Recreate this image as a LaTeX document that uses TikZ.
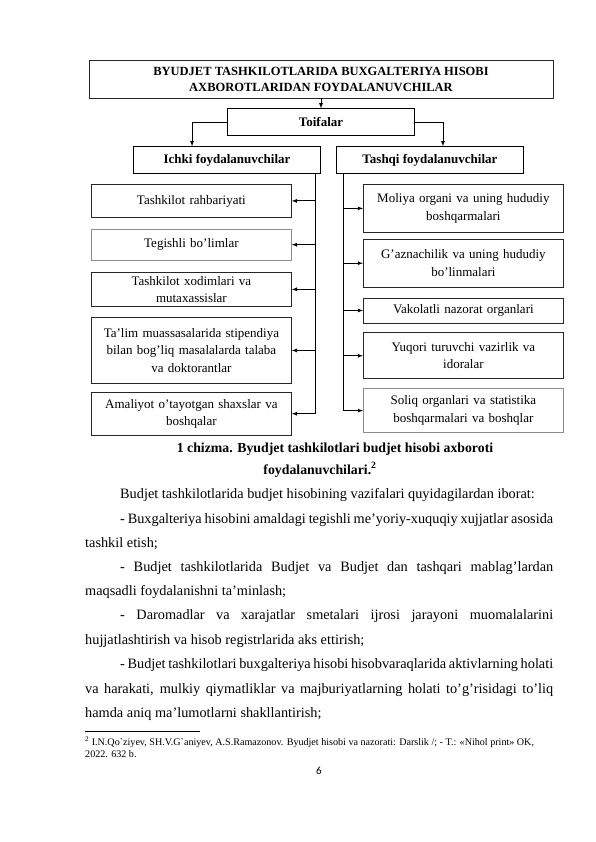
\documentclass[tikz,border=0pt]{standalone}
\usepackage{fontspec}
\setmainfont{Liberation Serif}
\newfontfamily\pagenumfont{Carlito}
\usetikzlibrary{positioning,calc}
\tikzstyle{titlebox} = [rectangle, draw=black!85, line width=0.8pt, minimum width=464pt, minimum height=38pt, align=center, font=\fontsize{12.5}{16}\selectfont\bfseries]
\tikzstyle{header} = [rectangle, draw=black, line width=0.9pt, minimum width=187pt, minimum height=27pt, text centered, font=\fontsize{13}{16}\selectfont\bfseries]
\tikzstyle{userbox} = [rectangle, draw=black!85, line width=0.8pt, text width=192pt, inner sep=4pt, align=center, font=\fontsize{13}{17.5}\selectfont]
\tikzstyle{link} = [line width=0.8pt]
\tikzstyle{arrowlink} = [line width=0.8pt, -latex]
\tikzstyle{bodyline} = [anchor=base west, inner sep=0pt, font=\fontsize{14.3}{16}\selectfont]
\tikzstyle{footline} = [anchor=base west, inner sep=0pt, font=\fontsize{10.1}{12}\selectfont]

\begin{document}
\begin{tikzpicture}[x=1pt, y=1pt]
\useasboundingbox (0,0) rectangle (595,-842);

% Sarlavha
\node[titlebox] (title) at (321,-79) {BYUDJET TASHKILOTLARIDA BUXGALTERIYA HISOBI\\AXBOROTLARIDAN FOYDALANUVCHILAR};

% Toifalar
\node[header, below=10pt of title] (toifa) {Toifalar};
\draw[arrowlink] (title) -- (toifa);

% Ichki va tashqi foydalanuvchilar
\node[header, below=10pt of toifa.south west] (ichki) {Ichki foydalanuvchilar};
\node[header, right=15pt of ichki] (tashqi) {Tashqi foydalanuvchilar};
\draw[arrowlink] (toifa.west) -| ([xshift=-35pt]ichki.north);
\draw[arrowlink] (toifa.east) -| ([xshift=13pt]tashqi.north);

% Ichki foydalanuvchilar ro'yxati
\node[userbox, minimum height=33pt, anchor=north west] (rahb) at (91,-184) {Tashkilot rahbariyati};
\node[userbox, minimum height=31pt, draw=black!45, below=11pt of rahb] (teg) {Tegishli bo’limlar};
\node[userbox, minimum height=33pt, below=11pt of teg] (xod) {Tashkilot xodimlari va\\mutaxassislar};
\node[userbox, minimum height=66pt, below=10pt of xod] (talim) {Ta’lim muassasalarida stipendiya\\bilan bog’liq masalalarda talaba\\va doktorantlar};
\node[userbox, minimum height=43pt, below=8pt of talim] (amal) {Amaliyot o’tayotgan shaxslar va\\boshqalar};

\coordinate (lbus) at ([xshift=-6pt]ichki.south east);
\draw[link] (lbus) -- (lbus |- amal.east);
\foreach \n in {rahb,teg,xod,talim,amal}
  \draw[arrowlink] (lbus |- \n.east) -- (\n.east);

% Tashqi foydalanuvchilar ro'yxati
\node[userbox, minimum height=48pt, anchor=north west] (moliya) at (363,-184) {Moliya organi va uning hududiy\\boshqarmalari};
\node[userbox, minimum height=48pt, below=6pt of moliya] (gazna) {G’aznachilik va uning hududiy\\bo’linmalari};
\node[userbox, minimum height=25pt, below=10pt of gazna] (vakol) {Vakolatli nazorat organlari};
\node[userbox, minimum height=46pt, below=9pt of vakol] (yuqori) {Yuqori turuvchi vazirlik va\\idoralar};
\node[userbox, minimum height=44pt, draw=black!45, below=9pt of yuqori] (soliq) {Soliq organlari va statistika\\boshqarmalari va boshqlar};

\coordinate (rbus) at ([xshift=7pt]tashqi.south west);
\draw[link] (rbus) -- (rbus |- soliq.west);
\foreach \n in {moliya,gazna,vakol,yuqori,soliq}
  \draw[arrowlink] (rbus |- \n.west) -- (\n.west);

% Chizma nomi
\node[bodyline, anchor=base, font=\fontsize{13.8}{16}\selectfont\bfseries] (cap1) at (335,-452) {1 chizma. Byudjet tashkilotlari budjet hisobi axboroti};
\node[bodyline, anchor=base, font=\fontsize{13.8}{16}\selectfont\bfseries] (cap2) at (320,-474) {foydalanuvchilari.\textsuperscript{2}};

% Matn
\node[bodyline] (l1) at (120,-498) {Budjet tashkilotlarida budjet hisobining vazifalari quyidagilardan iborat:};
\node[bodyline] (l2) at (120,-523) {\makebox[433pt][s]{- Buxgalteriya hisobini amaldagi tegishli me’yoriy-xuquqiy xujjatlar asosida}};
\node[bodyline] (l3) at (85,-547) {tashkil etish;};
\node[bodyline] (l4) at (120,-571) {\makebox[433pt][s]{- Budjet tashkilotlarida Budjet va Budjet dan tashqari mablag’lardan}};
\node[bodyline] (l5) at (85,-595) {maqsadli foydalanishni ta’minlash;};
\node[bodyline] (l6) at (120,-619) {\makebox[433pt][s]{- Daromadlar va xarajatlar smetalari ijrosi jarayoni muomalalarini}};
\node[bodyline] (l7) at (85,-644) {hujjatlashtirish va hisob registrlarida aks ettirish;};
\node[bodyline] (l8) at (120,-668) {\makebox[433pt][s]{- Budjet tashkilotlari buxgalteriya hisobi hisobvaraqlarida aktivlarning holati}};
\node[bodyline] (l9) at (85,-693) {\makebox[468pt][s]{va harakati, mulkiy qiymatliklar va majburiyatlarning holati to’g’risidagi to’liq}};
\node[bodyline] (l10) at (85,-717) {hamda aniq ma’lumotlarni shakllantirish;};

% Izoh
\draw[line width=0.5pt] (85,-731) -- (200,-731);
\node[footline] (fn1) at (85,-745) {\textsuperscript{2} I.N.Qo\textasciigrave ziyev, SH.V.G\textasciigrave aniyev, A.S.Ramazonov. Byudjet hisobi va nazorati: Darslik /; - T.: «Nihol print» OK,};
\node[footline] (fn2) at (85,-757) {2022. 632 b.};

% Sahifa raqami
\node[anchor=base, inner sep=0pt, font=\pagenumfont\fontsize{11}{13}\selectfont] (pagenum) at (319,-774) {6};

\end{tikzpicture}
\end{document}
